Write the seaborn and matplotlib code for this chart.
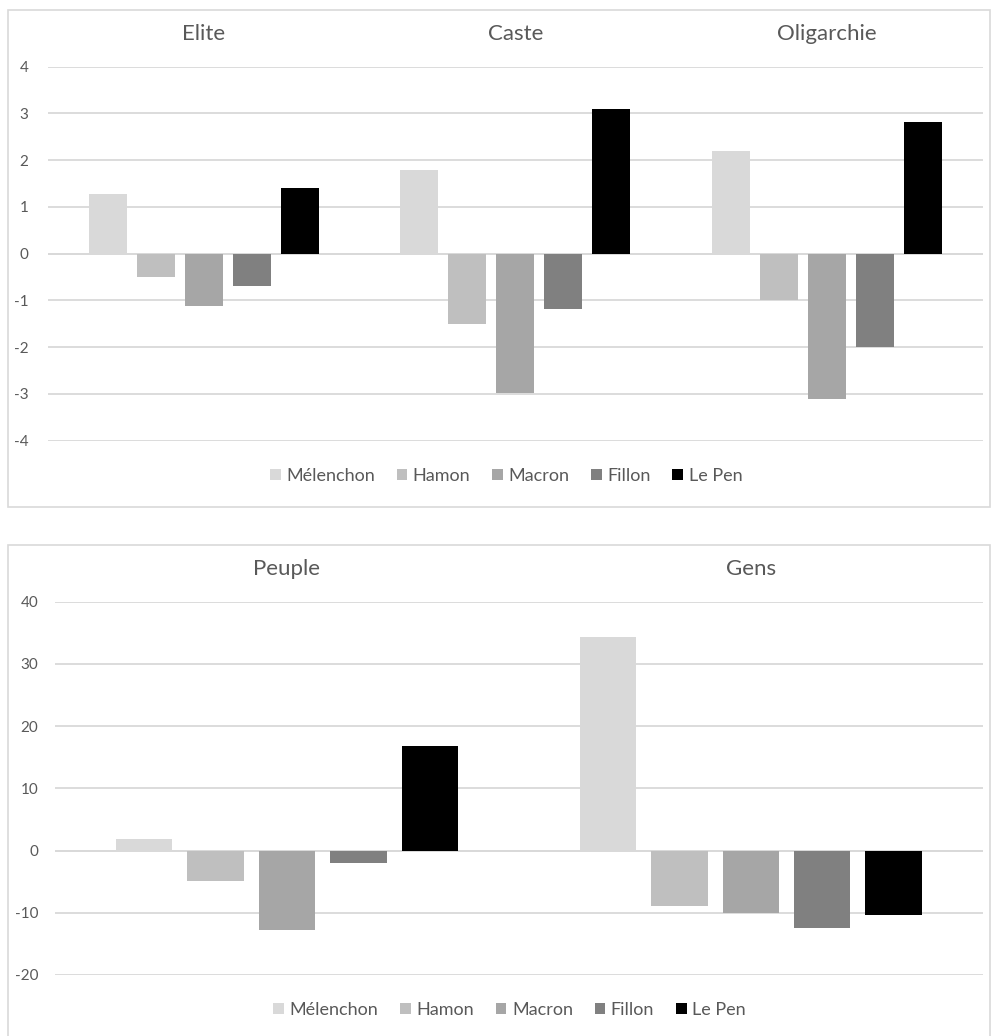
import matplotlib
matplotlib.use("Agg")
import matplotlib.pyplot as plt
from matplotlib.patches import Rectangle
import seaborn as sns
import pandas as pd

# ---- data ----
candidates = ["Mélenchon", "Hamon", "Macron", "Fillon", "Le Pen"]
colors = ["#d9d9d9", "#bfbfbf", "#a6a6a6", "#808080", "#000000"]

top_categories = ["Elite", "Caste", "Oligarchie"]
top_melenchon = [1.28, 1.78, 2.20]
top_hamon = [-0.50, -1.50, -1.00]
top_macron = [-1.12, -2.99, -3.10]
top_fillon = [-0.69, -1.19, -2.00]
top_lepen = [1.40, 3.09, 2.82]
top_ticks = [-4, -3, -2, -1, 0, 1, 2, 3, 4]

bot_categories = ["Peuple", "Gens"]
bot_melenchon = [1.9, 34.3]
bot_hamon = [-4.9, -8.9]
bot_macron = [-12.7, -10.0]
bot_fillon = [-2.0, -12.4]
bot_lepen = [16.8, -10.4]
bot_ticks = [-20, -10, 0, 10, 20, 30, 40]


def long_df(categories, series):
    rows = []
    for cand, vals in zip(candidates, series):
        for cat, v in zip(categories, vals):
            rows.append({"cat": cat, "cand": cand, "val": v})
    return pd.DataFrame(rows)


df_top = long_df(top_categories, [top_melenchon, top_hamon, top_macron, top_fillon, top_lepen])
df_bot = long_df(bot_categories, [bot_melenchon, bot_hamon, bot_macron, bot_fillon, bot_lepen])

sns.set_theme(style="white")
plt.rcParams["font.family"] = ["Lato", "DejaVu Sans"]

W, H = 992, 1036
fig = plt.figure(figsize=(W / 100, H / 100), dpi=100)

# panel frames
def frame(x0, y0, x1, y1):
    fig.patches.append(Rectangle((x0 / W, 1 - y1 / H), (x1 - x0) / W, (y1 - y0) / H,
                                 transform=fig.transFigure, fill=False,
                                 edgecolor="#d9d9d9", linewidth=1.2, zorder=0))

frame(8, 10, 990, 507)
frame(8, 545, 990, 1045)

TXT = "#595959"
GRID = "#d9d9d9"
palette = dict(zip(candidates, colors))


def panel(ax, df, categories, ticks, lab_pad):
    sns.barplot(data=df, x="cat", y="val", hue="cand", order=categories,
                hue_order=candidates, palette=palette, saturation=1,
                width=0.77, gap=0.21, linewidth=0, ax=ax, errorbar=None)
    ax.set_xlim(-0.5, len(categories) - 0.5)
    ax.set_ylim(ticks[0], ticks[-1])
    ax.set_yticks(ticks)
    ax.set_yticklabels([str(t) for t in ticks])
    ax.yaxis.grid(True, color=GRID, linewidth=1.3)
    ax.set_axisbelow(True)
    for s in ax.spines.values():
        s.set_visible(False)
    ax.set_xlabel("")
    ax.set_ylabel("")
    ax.xaxis.set_ticks_position("top")
    ax.tick_params(axis="x", length=0, pad=16, labelsize=16, labelcolor=TXT)
    ax.tick_params(axis="y", length=0, pad=lab_pad, labelsize=11, labelcolor=TXT)
    ax.set_xticks(range(len(categories)))
    ax.set_xticklabels(categories)
    ax.axhline(0, color=GRID, linewidth=1.3, zorder=0.5)
    ax.legend(loc="center", bbox_to_anchor=(0.49, -0.094), ncol=5, frameon=False,
              fontsize=13, handlelength=0.6, handleheight=0.6,
              handletextpad=0.3, columnspacing=1.2, labelcolor=TXT)


ax1 = fig.add_axes([48 / W, 1 - 440.7 / H, 934.7 / W, 374 / H])
panel(ax1, df_top, top_categories, top_ticks, 14)

ax2 = fig.add_axes([55 / W, 1 - 975 / H, 927.7 / W, 373.3 / H])
panel(ax2, df_bot, bot_categories, bot_ticks, 12)

fig.savefig("out.png", dpi=100)
